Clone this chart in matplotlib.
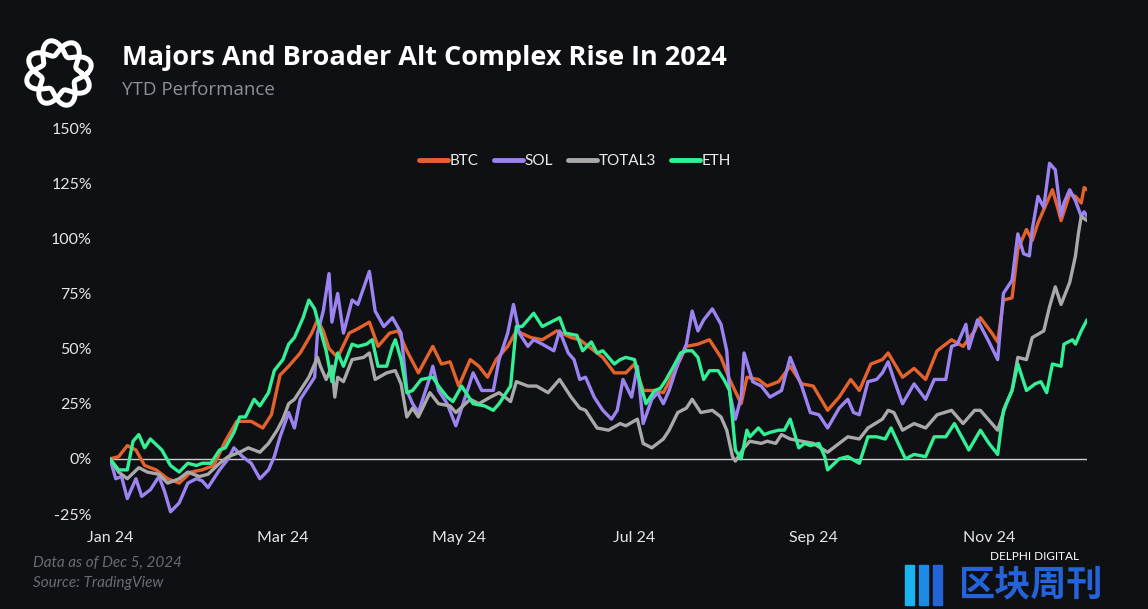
import matplotlib
matplotlib.use("Agg")
import matplotlib.pyplot as plt
import matplotlib.dates as mdates
from matplotlib.patches import Rectangle
from matplotlib.ticker import FuncFormatter
import numpy as np
import pandas as pd

# 读出的数据: 距 2024-01-01 的天数 与 年初至今涨幅 (%)
btc_days = [0, 3, 6, 9, 12, 16, 20, 24, 28, 32, 36, 40, 44, 49, 53, 56, 59, 62, 66, 70,
            72, 74, 76, 79, 83, 86, 90, 93, 97, 100, 103, 107, 112, 115, 118, 121, 125, 128,
            131, 134, 138, 141, 146, 150, 155, 160, 163, 168, 171, 175, 179, 182, 185, 189,
            192, 196, 200, 204, 208, 212, 215, 219, 221, 225, 228, 232, 236, 240, 244, 249,
            253, 257, 260, 264, 268, 270, 275, 279, 283, 287, 292, 296, 300, 302, 306, 308,
            310, 313, 315, 318, 320, 322, 325, 327, 329, 330, 333, 335, 337, 338, 339]
btc_vals = [0, 1, 6, 4, -3, -5, -9, -11, -6, -5, -3, 8, 17, 17, 14, 20, 38, 42, 48, 57,
            63, 58, 50, 46, 57, 59, 62, 51, 57, 58, 49, 39, 51, 43, 44, 33, 45, 42,
            37, 45, 51, 58, 55, 54, 58, 55, 54, 49, 46, 39, 39, 43, 31, 31,
            30, 40, 51, 52, 54, 46, 36, 25, 37, 36, 33, 35, 42, 34, 33, 22,
            28, 36, 31, 43, 45, 48, 37, 41, 36, 49, 54, 51, 58, 64, 57, 53,
            72, 73, 95, 104, 99, 107, 116, 122, 113, 108, 120, 119, 116, 123, 122]

sol_days = [0, 2, 4, 6, 9, 11, 14, 17, 19, 21, 24, 27, 30, 32, 34, 38, 41, 43, 46, 49,
            52, 55, 57, 59, 62, 64, 66, 69, 71, 72, 74, 76, 77, 79, 81, 84, 86, 90, 92, 95,
            98, 101, 103, 105, 107, 111, 112, 114, 117, 120, 122, 126, 129, 133, 135, 138,
            140, 142, 145, 147, 150, 154, 156, 159, 161, 163, 165, 168, 171, 174, 176, 178,
            181, 183, 185, 188, 190, 192, 194, 197, 200, 202, 204, 206, 209, 212, 214, 215,
            217, 219, 220, 223, 226, 229, 233, 236, 240, 243, 246, 249, 253, 256, 258, 260,
            263, 266, 268, 270, 272, 275, 279, 283, 286, 290, 292, 294, 297, 298, 301, 305,
            308, 310, 313, 315, 317, 319, 320, 322, 324, 326, 328, 330, 331, 333, 335, 337,
            338, 339]
sol_vals = [0, -9, -8, -18, -9, -17, -14, -8, -15, -24, -20, -11, -9, -10, -13, -5, 0, 5, 1, -2,
            -9, -5, 1, 10, 21, 14, 27, 33, 37, 57, 67, 84, 62, 75, 57, 72, 70, 85, 67, 60,
            64, 57, 31, 25, 21, 37, 42, 31, 25, 15, 23, 39, 31, 31, 45, 57,
            70, 57, 51, 54, 52, 49, 58, 48, 45, 36, 37, 28, 22, 18, 22, 36,
            28, 42, 16, 27, 30, 25, 31, 43, 52, 67, 58, 63, 68, 61, 49, 30,
            18, 28, 48, 35, 33, 28, 31, 46, 33, 21, 20, 14, 23, 27, 21, 20,
            35, 36, 39, 44, 36, 25, 34, 27, 36, 36, 51, 52, 61, 50, 63, 53,
            45, 75, 81, 102, 93, 92, 104, 119, 114, 134, 131, 110, 116, 122, 117, 110,
            112, 110]

total3_days = [0, 3, 6, 10, 13, 17, 20, 24, 27, 31, 34, 38, 41, 45, 48, 52, 55, 58, 60, 62,
               64, 67, 69, 72, 73, 75, 77, 78, 79, 81, 84, 88, 90, 92, 96, 99, 101, 103, 105,
               107, 111, 114, 118, 120, 125, 128, 132, 135, 139, 141, 145, 148, 152, 156, 160,
               163, 165, 169, 173, 177, 179, 183, 185, 188, 192, 194, 197, 200, 202, 205, 209,
               212, 214, 216, 217, 220, 222, 226, 228, 231, 233, 236, 240, 244, 249, 253, 256,
               260, 263, 268, 270, 272, 275, 279, 283, 287, 292, 296, 300, 302, 306, 308, 311,
               313, 315, 318, 320, 324, 326, 328, 330, 333, 335, 336, 337, 338, 339]
total3_vals = [0, -6, -9, -4, -6, -7, -11, -9, -6, -8, -7, -2, 1, 3, 5, 3, 7, 13, 18, 25,
               27, 33, 37, 46, 42, 36, 42, 28, 37, 35, 45, 46, 48, 36, 39, 40, 34, 19, 23,
               19, 30, 25, 24, 21, 27, 25, 28, 30, 26, 35, 33, 33, 30, 36, 28,
               23, 22, 14, 13, 16, 15, 18, 7, 5, 9, 13, 21, 23, 27, 21, 22,
               19, 13, 1, -1, 5, 8, 7, 8, 7, 11, 9, 8, 7, 3, 7, 10,
               9, 14, 18, 22, 21, 13, 16, 14, 20, 22, 16, 22, 22, 16, 13, 25,
               31, 46, 45, 55, 58, 69, 78, 70, 80, 92, 102, 110, 109, 108]

eth_days = [0, 3, 6, 8, 10, 12, 14, 18, 21, 24, 27, 30, 32, 35, 38, 40, 43, 45, 47, 50,
            52, 55, 57, 60, 62, 64, 67, 69, 71, 72, 75, 77, 79, 81, 84, 86, 89, 91, 93, 96,
            98, 99, 101, 103, 105, 108, 112, 114, 117, 119, 122, 126, 130, 133, 135, 138,
            139, 141, 143, 147, 150, 153, 156, 158, 162, 164, 167, 169, 171, 175, 177, 179,
            182, 184, 186, 189, 191, 193, 196, 198, 200, 202, 204, 206, 208, 211, 213, 215,
            216, 217, 219, 221, 222, 225, 227, 229, 232, 234, 236, 239, 241, 243, 246, 248,
            249, 253, 256, 260, 263, 266, 269, 271, 276, 279, 283, 286, 290, 293, 298, 302,
            305, 308, 310, 313, 315, 318, 321, 323, 325, 327, 330, 331, 334, 335, 337, 339]
eth_vals = [0, -5, -5, 8, 11, 5, 9, 4, -3, -6, -2, -3, -2, -2, 4, 5, 12, 19, 19, 27,
            24, 30, 40, 45, 52, 55, 64, 72, 68, 63, 49, 35, 48, 42, 52, 51, 52, 54, 42, 42,
            51, 54, 45, 30, 31, 36, 37, 33, 28, 26, 33, 25, 24, 22, 25, 31,
            33, 60, 60, 66, 60, 62, 64, 57, 56, 49, 53, 48, 49, 43, 45, 46,
            45, 34, 25, 31, 32, 36, 43, 48, 49, 49, 46, 36, 40, 40, 36, 31,
            18, 4, 0, 13, 10, 14, 11, 12, 13, 13, 18, 5, 7, 6, 7, 1,
            -5, 0, 1, -2, 10, 10, 9, 14, 0, 2, 1, 10, 10, 16, 4, 13,
            7, 2, 22, 31, 43, 31, 34, 35, 30, 43, 42, 52, 54, 52, 58, 63]

series_names = ['BTC', 'SOL', 'TOTAL3', 'ETH']
series_colors = ['#e4622c', '#9c83f2', '#a9a9a9', '#33f096']

start = pd.Timestamp('2024-01-01')
end = pd.Timestamp('2024-12-05')


def to_dates(days):
    return start + pd.to_timedelta(days, unit='D')


bg = '#0f1013'
fig = plt.figure(figsize=(11.48, 6.09), dpi=100, facecolor=bg)
ax = fig.add_axes([110 / 1148, 95 / 609, 977 / 1148, 386 / 609])
ax.set_facecolor(bg)

# 零线
ax.axhline(0, color='#cfcfcf', lw=1.0, zorder=1)

all_days = [btc_days, sol_days, total3_days, eth_days]
all_vals = [btc_vals, sol_vals, total3_vals, eth_vals]
for name, color, d, v in zip(series_names, series_colors, all_days, all_vals):
    ax.plot(to_dates(d), v, color=color, lw=2.4, label=name,
            solid_joinstyle='round', solid_capstyle='round', zorder=2)

ax.set_xlim(start, end)
ax.set_ylim(-25, 150)
ax.set_yticks(np.arange(-25, 151, 25))
ax.yaxis.set_major_formatter(FuncFormatter(lambda v, p: f'{v:.0f}%'))
ax.xaxis.set_major_locator(mdates.MonthLocator(bymonth=[1, 3, 5, 7, 9, 11]))
ax.xaxis.set_major_formatter(mdates.DateFormatter('%b %y'))
ax.tick_params(axis='both', length=0, colors='#e6e6e6', labelsize=11.5)
ax.tick_params(axis='y', pad=13)
ax.tick_params(axis='x', pad=12)
for lab in ax.get_xticklabels() + ax.get_yticklabels():
    lab.set_family('Lato')
for s in ax.spines.values():
    s.set_visible(False)

leg = ax.legend(loc='center', bbox_to_anchor=(0.476, 0.914), ncol=4, frameon=False,
                handlelength=1.9, handletextpad=0.1, columnspacing=1.0,
                prop={'family': 'Lato', 'size': 11})
for t in leg.get_texts():
    t.set_color('#ececec')
for h in leg.get_lines():
    h.set_linewidth(3.5)

# 标题
fig.text(122 / 1148, 1 - 58 / 609, 'Majors And Broader Alt Complex Rise In 2024',
         family='Open Sans', weight='bold', size=19.5, color='white', va='center')
fig.text(122 / 1148, 1 - 90 / 609, 'YTD Performance',
         family='Open Sans', size=13.5, color='#8c9198', va='center')

# 脚注
fig.text(33 / 1148, 1 - 563 / 609, 'Data as of Dec 5, 2024', family='Lato', style='italic',
         size=11, color='#676c74', va='center')
fig.text(33 / 1148, 1 - 583 / 609, 'Source: TradingView', family='Lato', style='italic',
         size=11, color='#676c74', va='center')

# 左上角图标 (两条交织的波浪环)
lax = fig.add_axes([20 / 1148, 1 - 112 / 609, 78 / 1148, 78 / 609])
lax.set_xlim(-1.1, 1.1)
lax.set_ylim(-1.1, 1.1)
lax.set_aspect('equal')
lax.axis('off')
theta = np.linspace(0, 2 * np.pi, 400)
for sign in (1, -1):
    r = 0.72 + sign * 0.22 * np.sin(4 * theta + 0.4)
    lax.plot(r * np.cos(theta), r * np.sin(theta), color='white', lw=3.6,
             solid_capstyle='round')

# 右下角水印
fig.text(990 / 1148, 1 - 556 / 609, 'DELPHI DIGITAL', family='Lato', size=8.5,
         color='white', va='center', zorder=1)
for i, c in enumerate(['#19b4f0', '#1f8ae6', '#2563d9']):
    fig.patches.append(Rectangle(((905 + i * 14) / 1148, 4 / 609), 9 / 1148, 40 / 609,
                                 transform=fig.transFigure, color=c, zorder=2))
fig.text(958 / 1148, 1 - 585 / 609, '区块周刊', family=['Noto Sans CJK SC', 'DejaVu Sans'],
         weight='bold', size=26, color='#2563d9', va='center', zorder=3)

fig.savefig('out.png', dpi=100, facecolor=bg)
